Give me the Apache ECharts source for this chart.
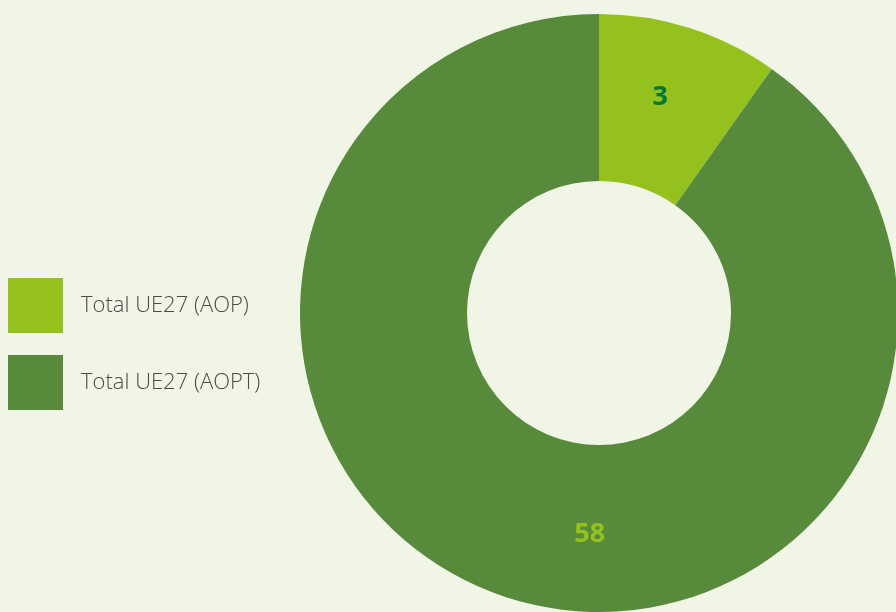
<!DOCTYPE html>
<html lang="fr">
<head>
    <meta charset="UTF-8">
    <title>Total UE27</title>
    <script src="https://cdn.jsdelivr.net/npm/echarts@6.0.0/dist/echarts.min.js"></script>
    <style>
        body { margin: 0; padding: 0; background: #f1f5e6; }
        #chart { width: 896px; height: 612px; }
    </style>
</head>
<body>
    <div id="chart"></div>
    <script>
        var categories = ['Total UE27 (AOP)', 'Total UE27 (AOPT)'];
        var labels = [3, 58];
        var shares = [9.8, 90.2];
        var colors = ['#95c11f', '#578a3b'];
        var labelColors = ['#007a33', '#95c11f'];

        var chart = echarts.init(document.getElementById('chart'));
        chart.setOption({
            animation: false,
            backgroundColor: '#f1f5e6',
            legend: {
                orient: 'vertical',
                left: 8,
                top: 278,
                padding: 0,
                itemWidth: 55,
                itemHeight: 55,
                itemGap: 22,
                icon: 'rect',
                selectedMode: false,
                textStyle: {
                    fontFamily: 'Open Sans',
                    fontWeight: 300,
                    fontSize: 22,
                    color: '#4a4a48',
                    padding: [0, 0, 0, 13]
                },
                data: categories
            },
            series: [{
                type: 'pie',
                center: [599, 313],
                radius: [132, 299],
                startAngle: 90,
                clockwise: true,
                silent: true,
                label: {
                    show: true,
                    position: 'inside',
                    fontFamily: 'Noto Sans',
                    fontWeight: 'bold',
                    fontSize: 27,
                    formatter: function (p) { return labels[p.dataIndex]; }
                },
                labelLayout: function (p) {
                    return p.dataIndex === 1 ? { dx: 57, dy: 13 } : { dx: -5, dy: -7 };
                },
                labelLine: { show: false },
                data: categories.map(function (name, i) {
                    return {
                        name: name,
                        value: shares[i],
                        itemStyle: { color: colors[i] },
                        label: { color: labelColors[i] }
                    };
                })
            }]
        });
    </script>
</body>
</html>
